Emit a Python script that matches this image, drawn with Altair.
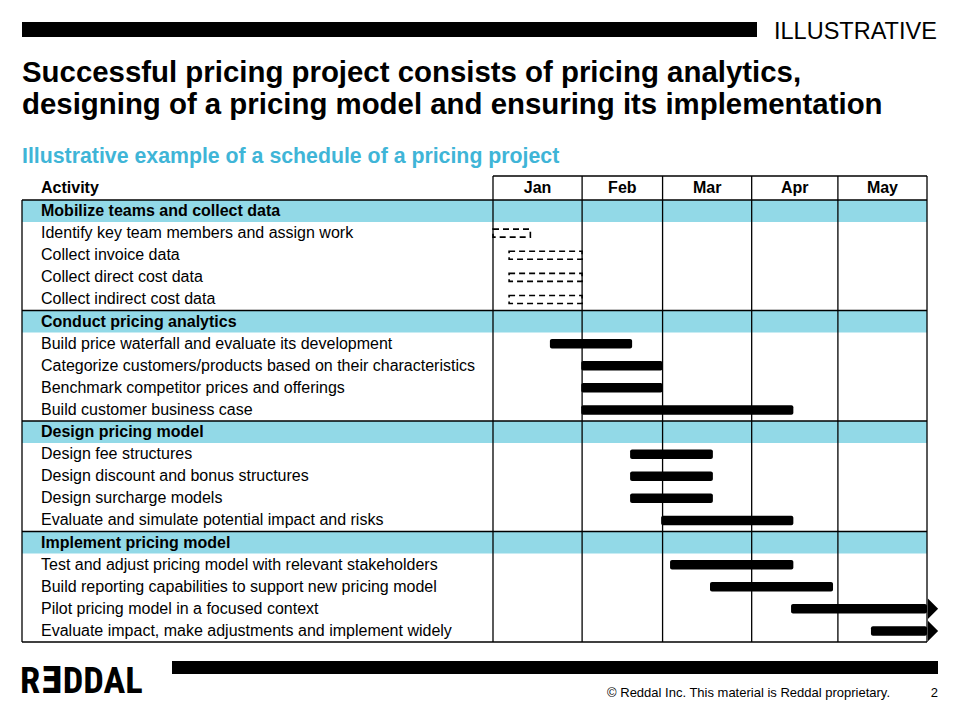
import altair as alt
import pandas as pd

# ---------------- data ----------------
months = ["Jan", "Feb", "Mar", "Apr", "May"]
month_days = [31, 28, 31, 30, 31]

sections = [
    "Mobilize teams and collect data",
    "Conduct pricing analytics",
    "Design pricing model",
    "Implement pricing model",
]

activities = [
    "Identify key team members and assign work",
    "Collect invoice data",
    "Collect direct cost data",
    "Collect indirect cost data",
    "Build price waterfall and evaluate its development",
    "Categorize customers/products based on their characteristics",
    "Benchmark competitor prices and offerings",
    "Build customer business case",
    "Design fee structures",
    "Design discount and bonus structures",
    "Design surcharge models",
    "Evaluate and simulate potential impact and risks",
    "Test and adjust pricing model with relevant stakeholders",
    "Build reporting capabilities to support new pricing model",
    "Pilot pricing model in a focused context",
    "Evaluate impact, make adjustments and implement widely",
]
activity_section = [0, 0, 0, 0, 1, 1, 1, 1, 2, 2, 2, 2, 3, 3, 3, 3]
# start / end in days counted from 1 January
start_day = [0, 5.6, 5.6, 5.6, 19.8, 30.7, 30.7, 30.7, 47.7, 47.7, 47.7, 58.5, 61.6, 75.5, 103.7, 131.5]
end_day = [13, 31, 31, 31, 48.4, 59, 59, 104.5, 76.5, 76.5, 76.5, 104.5, 104.5, 118.3, 151, 151]
bar_kind = ["planned"] * 4 + ["firm"] * 10 + ["continuing"] * 2

title_lines = [
    "Successful pricing project consists of pricing analytics,",
    "designing of a pricing model and ensuring its implementation",
]
subtitle = "Illustrative example of a schedule of a pricing project"
stamp = "ILLUSTRATIVE"
footer_note = "\u00a9 Reddal Inc. This material is Reddal proprietary."
page_no = "2"
logo = "R\u018eDDAL"

# ---------------- layout ----------------
W, H = 960, 720
FONT = "Liberation Sans, Arial, Helvetica, sans-serif"
LOGO_FONT = ("Roboto Condensed, Liberation Sans Narrow, "
             "DejaVu Sans Condensed, sans-serif")
CYAN = "#92D9E7"
SUB_CYAN = "#3FB5D7"
ROW_PX = 22.1
BODY_TOP_PX = 200
HEADER_PX = 24
DAY0_PX = 493
DAY_PX = 2.8742
TABLE_LEFT_PX = 22
TABLE_FS = 16

X_DOMAIN = [-DAY0_PX / DAY_PX, (W - DAY0_PX) / DAY_PX]
Y_DOMAIN = [-BODY_TOP_PX / ROW_PX, (H - BODY_TOP_PX) / ROW_PX]
TABLE_LEFT = (TABLE_LEFT_PX - DAY0_PX) / DAY_PX
HEADER_H = HEADER_PX / ROW_PX

x_scale = alt.Scale(domain=X_DOMAIN, nice=False, zero=False)
y_scale = alt.Scale(domain=Y_DOMAIN, nice=False, zero=False, reverse=True)


def X(f):
    return alt.X(f, type="quantitative", scale=x_scale, axis=None)


def X2(f):
    return alt.X2(f)


def Y(f):
    return alt.Y(f, type="quantitative", scale=y_scale, axis=None)


def Y2(f):
    return alt.Y2(f)


# ---------------- derived tables ----------------
rows = []
r = 0
for s_idx, s in enumerate(sections):
    rows.append(dict(row=r, label=s, kind="section"))
    r += 1
    for i, a in enumerate(activities):
        if activity_section[i] == s_idx:
            rows.append(dict(row=r, label=a, kind="item",
                             start=start_day[i], end=end_day[i], bar=bar_kind[i]))
            r += 1
n_rows = r
rows_df = pd.DataFrame(rows)
rows_df["center"] = rows_df["row"] + 0.5
rows_df["top"] = rows_df["row"]
rows_df["bottom"] = rows_df["row"] + 1

sec_df = rows_df[rows_df.kind == "section"].copy()
sec_df["x0"] = TABLE_LEFT
sec_df["x1"] = sum(month_days)

items = rows_df[rows_df.kind == "item"].copy()
BAR_HALF = 0.215
DASH_HALF = 0.18
items["b0"] = items["center"] - BAR_HALF
items["b1"] = items["center"] + BAR_HALF
items["d0"] = items["center"] - DASH_HALF
items["d1"] = items["center"] + DASH_HALF

cum = [0]
for d in month_days:
    cum.append(cum[-1] + d)
total = cum[-1]

months_df = pd.DataFrame({
    "month": months,
    "mid": [(cum[i] + cum[i + 1]) / 2 for i in range(len(months))],
    "yc": [-HEADER_H / 2] * len(months),
})

lines = []
for c in cum:
    lines.append(dict(x=c, x2=c, y=-HEADER_H, y2=n_rows))
lines.append(dict(x=TABLE_LEFT, x2=TABLE_LEFT, y=0, y2=n_rows))
lines.append(dict(x=0, x2=total, y=-HEADER_H, y2=-HEADER_H))
for rr in list(sec_df["row"]) + [n_rows]:
    lines.append(dict(x=TABLE_LEFT, x2=total, y=rr, y2=rr))
lines_df = pd.DataFrame(lines)

one = pd.DataFrame({"k": [0]})

# ---------------- layers ----------------
cyan = alt.Chart(sec_df).mark_rect(color=CYAN).encode(
    x=X("x0"), x2=X2("x1"), y=Y("top"), y2=Y2("bottom"))

grid = alt.Chart(lines_df).mark_rule(color="black", strokeWidth=1.3).encode(
    x=X("x"), x2=X2("x2"), y=Y("y"), y2=Y2("y2"))

solid = alt.Chart(items[items.bar != "planned"]).mark_rect(
    color="black", cornerRadius=2).encode(
    x=X("start"), x2=X2("end"), y=Y("b0"), y2=Y2("b1"))

dashed = alt.Chart(items[items.bar == "planned"]).mark_rect(
    fillOpacity=0, stroke="black", strokeWidth=1.6, strokeDash=[6, 4]).encode(
    x=X("start"), x2=X2("end"), y=Y("d0"), y2=Y2("d1"))

arrows = alt.Chart(items[items.bar == "continuing"]).mark_point(
    shape="M -0.45 -1 L 0.55 0 L -0.45 1 Z", size=420, filled=True,
    color="black", opacity=1, xOffset=5.5).encode(
    x=X("end"), y=Y("center"))

sec_text = alt.Chart(sec_df).mark_text(
    align="left", baseline="middle", font=FONT, fontSize=TABLE_FS,
    fontWeight="bold", color="black").encode(
    x=alt.value(41), y=Y("center"), text="label")

item_text = alt.Chart(items).mark_text(
    align="left", baseline="middle", font=FONT, fontSize=TABLE_FS,
    color="black").encode(
    x=alt.value(41), y=Y("center"), text="label")

month_text = alt.Chart(months_df).mark_text(
    align="center", baseline="middle", font=FONT, fontSize=TABLE_FS,
    fontWeight="bold", color="black").encode(
    x=X("mid"), y=Y("yc"), text="month")

activity_hdr = alt.Chart(one).mark_text(
    text="Activity", align="left", baseline="middle", font=FONT,
    fontSize=TABLE_FS, fontWeight="bold", color="black").encode(
    x=alt.value(41), y=alt.value(188))

title = alt.Chart(one).mark_text(
    text=title_lines, align="left", baseline="alphabetic", font=FONT,
    fontSize=29.4, fontWeight="bold", lineHeight=32, color="black").encode(
    x=alt.value(22), y=alt.value(82))

sub = alt.Chart(one).mark_text(
    text=subtitle, align="left", baseline="alphabetic", font=FONT,
    fontSize=21.3, fontWeight="bold", color=SUB_CYAN).encode(
    x=alt.value(22), y=alt.value(163))

top_bar = alt.Chart(one).mark_rect(color="black").encode(
    x=alt.value(22), x2=alt.value(757), y=alt.value(22), y2=alt.value(37))

stamp_t = alt.Chart(one).mark_text(
    text=stamp, align="left", baseline="alphabetic", font=FONT,
    fontSize=23.5, color="black").encode(
    x=alt.value(774), y=alt.value(39))

foot_bar = alt.Chart(one).mark_rect(color="black").encode(
    x=alt.value(172), x2=alt.value(938), y=alt.value(661), y2=alt.value(674))

logo_t = alt.Chart(one).mark_text(
    text=logo, align="left", baseline="alphabetic",
    font=LOGO_FONT, fontSize=36.5, fontWeight="bold", color="black").encode(
    x=alt.value(20), y=alt.value(693))

foot_t = alt.Chart(one).mark_text(
    text=footer_note, align="right", baseline="alphabetic", font=FONT,
    fontSize=13, color="black").encode(
    x=alt.value(890), y=alt.value(697))

page_t = alt.Chart(one).mark_text(
    text=page_no, align="right", baseline="alphabetic", font=FONT,
    fontSize=13, color="black").encode(
    x=alt.value(938), y=alt.value(697))

chart = alt.layer(
    cyan, grid, solid, dashed, arrows, sec_text, item_text, month_text,
    activity_hdr, title, sub, top_bar, stamp_t, foot_bar, logo_t, foot_t, page_t,
).properties(
    width=W, height=H, padding=0,
    autosize=alt.AutoSizeParams(type="none"),
    background="white",
).configure_view(strokeWidth=0)

chart.save("out.html", embed_options={"renderer": "svg", "actions": False})
